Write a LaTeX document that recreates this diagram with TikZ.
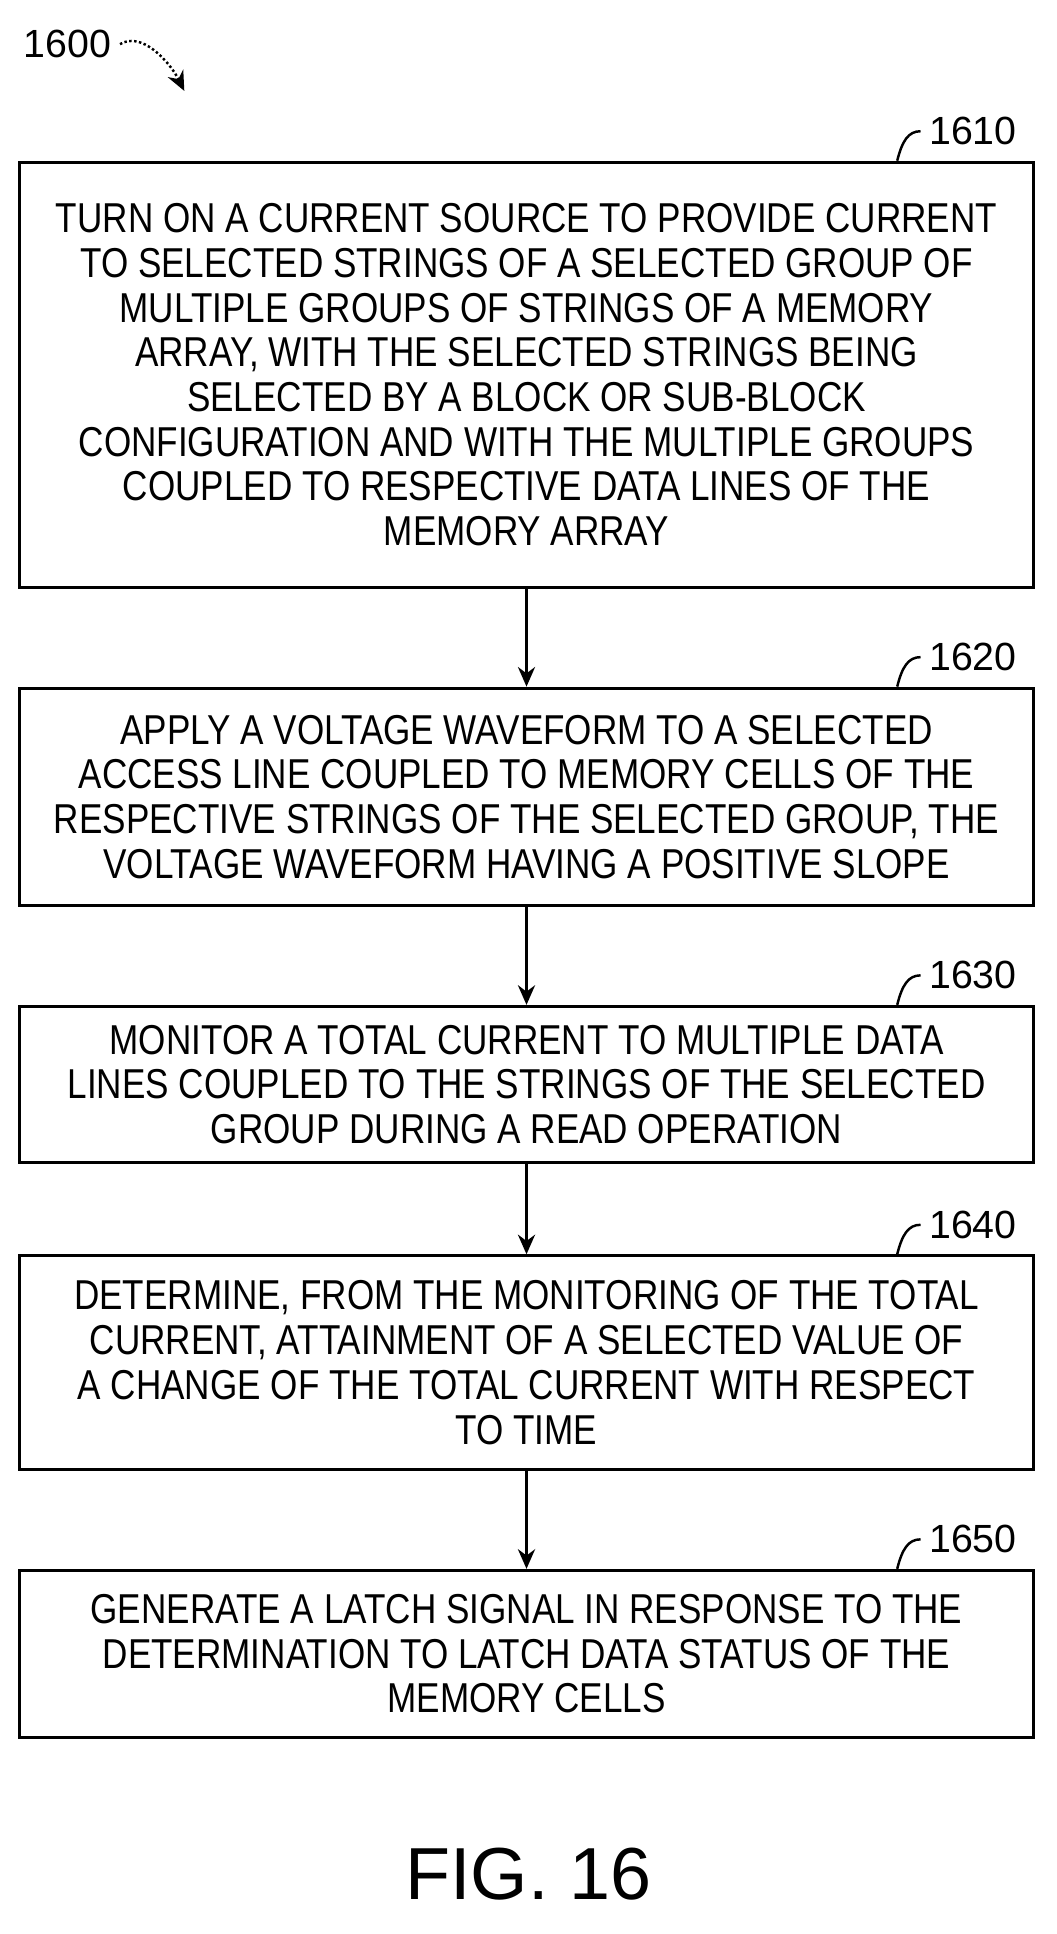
\documentclass[tikz,border=0pt]{standalone}
\usepackage{fontspec}
\setmainfont{Liberation Sans}[FakeStretch=0.84]
\newfontfamily\figfont{Liberation Sans}
\usetikzlibrary{arrows.meta}
\begin{document}
\begin{tikzpicture}[x=0.5pt,y=-0.5pt,
  stepbox/.style={draw,line width=1.2pt,align=center,font=\fontsize{17}{18.2}\selectfont,inner sep=0pt,minimum width=412.5pt},
  flow/.style={-{Stealth[length=8pt,width=7pt]},line width=1pt},
  lbl/.style={font=\fontsize{16}{18}\selectfont\figfont},
  lead/.style={line width=1pt}]
\useasboundingbox (0,0) rectangle (860,1574);
\node[stepbox,minimum height=173pt] (s1610) at (428.5,305) {TURN ON A CURRENT SOURCE TO PROVIDE CURRENT\\TO SELECTED STRINGS OF A SELECTED GROUP OF\\MULTIPLE GROUPS OF STRINGS OF A MEMORY\\ARRAY, WITH THE SELECTED STRINGS BEING\\SELECTED BY A BLOCK OR SUB-BLOCK\\CONFIGURATION AND WITH THE MULTIPLE GROUPS\\COUPLED TO RESPECTIVE DATA LINES OF THE\\MEMORY ARRAY};
\node[stepbox,minimum height=88.5pt] (s1620) at (428.5,648.5) {APPLY A VOLTAGE WAVEFORM TO A SELECTED\\ACCESS LINE COUPLED TO MEMORY CELLS OF THE\\RESPECTIVE STRINGS OF THE SELECTED GROUP, THE\\VOLTAGE WAVEFORM HAVING A POSITIVE SLOPE};
\node[stepbox,minimum height=63.5pt] (s1630) at (428.5,882.5) {MONITOR A TOTAL CURRENT TO MULTIPLE DATA\\LINES COUPLED TO THE STRINGS OF THE SELECTED\\GROUP DURING A READ OPERATION};
\node[stepbox,minimum height=87pt] (s1640) at (428.5,1109) {DETERMINE, FROM THE MONITORING OF THE TOTAL\\CURRENT, ATTAINMENT OF A SELECTED VALUE OF\\A CHANGE OF THE TOTAL CURRENT WITH RESPECT\\TO TIME};
\node[stepbox,minimum height=68pt] (s1650) at (428.5,1346) {GENERATE A LATCH SIGNAL IN RESPONSE TO THE\\DETERMINATION TO LATCH DATA STATUS OF THE\\MEMORY CELLS};
\foreach \n in {1610,1620,1630,1640,1650}{
  \node[lbl,anchor=west] (l\n) at ([shift={(-93,-24)}]s\n.north east) {\n};
  \draw[lead] ([shift={(-112,0)}]s\n.north east) .. controls +(4,-16) and +(-10,0) .. (l\n.west);
}
\draw[flow] (s1610) -- (s1620);
\draw[flow] (s1620) -- (s1630);
\draw[flow] (s1630) -- (s1640);
\draw[flow] (s1640) -- (s1650);
\node[lbl] (l1600) at (55,36) {1600};
\coordinate (a1600) at (150,74);
\draw[flow,densely dotted] (l1600.east) .. controls (115,25) and (138,50) .. (a1600);
\node[font=\fontsize{30}{34}\selectfont\figfont] (fig) at (430,1525) {FIG. 16};
\end{tikzpicture}
\end{document}
